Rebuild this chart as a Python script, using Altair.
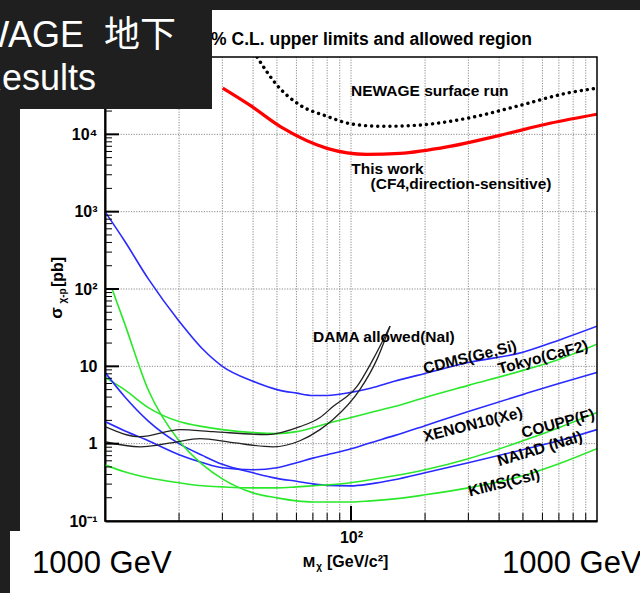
import altair as alt
import pandas as pd

W, H = 492, 464

# ---------------- data ----------------
mass = [10, 12, 15, 20, 25, 30, 40, 50, 60, 70, 80, 100, 120, 150, 200, 300, 500, 700, 1000]
cdms = [1000, 420, 135, 38.4, 16.6, 10.0, 6.4, 5.0, 4.5, 4.2, 4.2, 4.6, 5.2, 6.4, 8.1, 11.2, 15.2, 21.8, 33]
tokyo = [7.2, 5.0, 2.93, 1.93, 1.66, 1.52, 1.39, 1.35, 1.43, 1.61, 1.82, 2.18, 2.53, 3.02, 3.96, 5.67, 8.87, 12.3, 19.3]
xenon10 = [1.93, 1.47, 1.09, 0.72, 0.567, 0.488, 0.46, 0.488, 0.567, 0.65, 0.72, 0.86, 1.03, 1.27, 1.71, 2.60, 4.33, 6.01, 8.36]
naiad = [8.36, 4.08, 1.96, 1.0, 0.70, 0.54, 0.42, 0.356, 0.326, 0.302, 0.289, 0.285, 0.302, 0.341, 0.42, 0.567, 0.836, 1.09, 1.52]
coupp = [0.533, 0.433, 0.362, 0.312, 0.285, 0.276, 0.268, 0.268, 0.276, 0.285, 0.293, 0.312, 0.341, 0.384, 0.46, 0.639, 1.09, 1.61, 2.53]
kims_mass = [10.65, 12, 15, 20, 25, 30, 40, 50, 60, 70, 80, 100, 120, 150, 200, 300, 500, 700, 1000]
kims = [103, 36.2, 4.94, 1.09, 0.533, 0.351, 0.231, 0.199, 0.182, 0.176, 0.176, 0.176, 0.182, 0.193, 0.218, 0.268, 0.384, 0.55, 0.861]

this_work_mass = [30.1, 38.8, 52.9, 79.9, 116, 158, 252, 403, 644, 1000]
this_work = [3.95e4, 2.38e4, 1.20e4, 6.58e3, 5.5e3, 5.66e3, 6.98e3, 9.7e3, 1.39e4, 1.82e4]
surface_mass = [41.5, 50, 62.1, 79.9, 102, 135, 185, 296, 473, 755, 1000]
surface = [1.0e5, 4.33e4, 2.38e4, 1.71e4, 1.35e4, 1.27e4, 1.31e4, 1.61e4, 2.31e4, 3.41e4, 3.95e4]

dama_up_mass = [10, 13.9, 20.2, 27.5, 45.6, 62, 74.8, 84.5, 105.8, 122.9, 140.1, 144.1]
dama_up = [1.66, 1.23, 1.52, 1.43, 1.31, 1.66, 2.18, 3.02, 5.5, 12.3, 27.6, 33.1]
dama_lo_mass = [10, 13.9, 18.9, 24.3, 33.1, 48.2, 62, 74.8, 84.5, 108.8, 127.5, 140.1, 144.1]
dama_lo = [1.06, 0.91, 1.03, 1.16, 1.03, 0.91, 1.09, 1.52, 2.05, 5.03, 12.3, 26.0, 33.1]

curve_names = ["CDMS", "Tokyo", "XENON10", "NAIAD", "COUPP", "KIMS"]
curve_colors = ["#2a2aff", "#2ae82a", "#2a2aff", "#2a2aff", "#2ae82a", "#2ae82a"]

label_texts = ["NEWAGE surface run", "This work", "(CF4,direction-sensitive)", "DAMA allowed(NaI)",
               "CDMS(Ge,Si)", "Tokyo(CaF2)", "XENON10(Xe)", "COUPP(F)", "NAIAD (NaI)", "KIMS(CsI)"]
label_mass = [209, 140.6, 280, 136, 304.6, 603, 313, 694, 586, 419]
label_sigma = [3.61e4, 3.51e3, 2.31e3, 23.8, 13.1, 13.1, 1.77, 1.82, 0.861, 0.312]
label_angle = [0, 0, 0, 0, 346, 345, 346, 345, 343, 346]

x_grid_values = [10, 20, 30, 40, 50, 60, 70, 80, 90, 100, 200, 300, 400, 500, 600, 700, 800, 900, 1000]
x_label_values = [10, 100, 1000]
x_label_texts = ["10", "10²", "10³"]
y_values = [0.1, 1, 10, 100, 1000, 10000, 100000]
y_label_texts = ["10⁻¹", "1", "10", "10²", "10³", "10⁴", "10⁵"]

# ---------------- tables ----------------
rows = []
for name, ms, ss in [("CDMS", mass, cdms), ("Tokyo", mass, tokyo), ("XENON10", mass, xenon10),
                     ("NAIAD", mass, naiad), ("COUPP", mass, coupp), ("KIMS", kims_mass, kims)]:
    for m, s in zip(ms, ss):
        rows.append({"mass": m, "sigma": s, "series": name})
curves_df = pd.DataFrame(rows)
dama_df = pd.DataFrame(
    [{"mass": m, "sigma": s, "branch": "up"} for m, s in zip(dama_up_mass, dama_up)]
    + [{"mass": m, "sigma": s, "branch": "lo"} for m, s in zip(dama_lo_mass, dama_lo)])
red_df = pd.DataFrame({"mass": this_work_mass, "sigma": this_work})
dot_df = pd.DataFrame({"mass": surface_mass, "sigma": surface})
labels_df = pd.DataFrame({"mass": label_mass, "sigma": label_sigma, "text": label_texts, "angle": label_angle})
xgrid_df = pd.DataFrame({"v": x_grid_values[1:-1]})
ygrid_df = pd.DataFrame({"v": y_values[1:-1]})

y_minor = [m * 10.0 ** k for k in range(-1, 5) for m in range(2, 10)]
y_major = y_values[1:-1]
x_minor = [v for v in x_grid_values if v not in x_label_values]
x_major = [100]

def ternary(values, texts):
    expr = "''"
    for v, t in zip(reversed(values), reversed(texts)):
        expr = f"(abs(datum.value - {v}) < {v} * 1e-6) ? '{t}' : ({expr})"
    return expr

FONT = "Liberation Sans"
xs = alt.Scale(type="log", domain=[10, 1000], nice=False)
ys = alt.Scale(type="log", domain=[0.1, 100000], nice=False)
xaxis = alt.Axis(values=x_label_values, labelExpr=ternary(x_label_values, x_label_texts), title="",
                 ticks=False, domainColor="black", domainWidth=2, grid=False,
                 labelFont=FONT, labelFontSize=16, labelFontWeight="bold",
                 labelColor="black", labelPadding=8, labelOverlap=False, labelFlush=False, labelBound=False)
yaxis = alt.Axis(values=y_values, labelExpr=ternary(y_values, y_label_texts), title="",
                 ticks=False, domainColor="black", domainWidth=2, grid=False,
                 labelFont=FONT, labelFontSize=16, labelFontWeight="bold",
                 labelColor="black", labelPadding=8, labelOverlap=False, labelFlush=False, labelBound=False,
                 labelBaseline="middle")

def X(f="mass"):
    return alt.X(f"{f}:Q", scale=xs, axis=xaxis)

def Y(f="sigma"):
    return alt.Y(f"{f}:Q", scale=ys, axis=yaxis)

one = pd.DataFrame({"k": [0]})
GRID = dict(color="#8a8a8a", strokeWidth=1, strokeDash=[1.2, 1.4])

xgrid = alt.Chart(xgrid_df).mark_rule(**GRID).encode(x=X("v"), y=alt.value(0), y2=alt.value(H))
ygrid = alt.Chart(ygrid_df).mark_rule(**GRID).encode(y=Y("v"), x=alt.value(0), x2=alt.value(W))

curves = alt.Chart(curves_df).mark_line(strokeWidth=1.6, interpolate="monotone", clip=True).encode(
    x=X(), y=Y(),
    color=alt.Color("series:N", scale=alt.Scale(domain=curve_names, range=curve_colors), legend=None),
    detail="series:N")
dama = alt.Chart(dama_df).mark_line(color="#222222", strokeWidth=1.3, interpolate="monotone", clip=True).encode(
    x=X(), y=Y(), detail="branch:N")
red = alt.Chart(red_df).mark_line(color="#ff0000", strokeWidth=3.2, interpolate="monotone", clip=True).encode(
    x=X(), y=Y())
dots = alt.Chart(dot_df).mark_line(color="black", strokeWidth=3.4, strokeDash=[0.1, 6], strokeCap="round",
                                   interpolate="monotone", clip=True).encode(x=X(), y=Y())

tdf = lambda vals: pd.DataFrame({"v": vals})
yt_minor = alt.Chart(tdf(y_minor)).mark_rule(color="black", strokeWidth=1).encode(
    y=Y("v"), x=alt.value(0), x2=alt.value(7))
yt_major = alt.Chart(tdf(y_major)).mark_rule(color="black", strokeWidth=2).encode(
    y=Y("v"), x=alt.value(0), x2=alt.value(14))
xt_minor = alt.Chart(tdf(x_minor)).mark_rule(color="black", strokeWidth=1).encode(
    x=X("v"), y=alt.value(H), y2=alt.value(H - 8))
xt_major = alt.Chart(tdf(x_major)).mark_rule(color="black", strokeWidth=2).encode(
    x=X("v"), y=alt.value(H), y2=alt.value(H - 15))

labels = alt.Chart(labels_df).mark_text(font=FONT, fontSize=15.5, fontWeight="bold", color="black",
                                        align="center", baseline="middle").encode(
    x=X(), y=Y(), text="text:N", angle=alt.Angle("angle:Q", scale=None))

frame = alt.Chart(one).mark_rect(fill="transparent", stroke="black", strokeWidth=1.5).encode(
    x=alt.value(0), x2=alt.value(W), y=alt.value(0), y2=alt.value(H))

def txt(s, x, y, size, weight="bold", color="black", align="center", baseline="middle", angle=0):
    kw = dict(text=s, font=FONT + ", Noto Sans CJK JP, DejaVu Sans", fontSize=size, fontWeight=weight,
              color=color, align=align, baseline=baseline)
    if angle:
        kw["angle"] = angle
    return alt.Chart(one).mark_text(**kw).encode(x=alt.value(x), y=alt.value(y))

title = txt("90% C.L. upper limits and allowed region", 427, -12, 17.5, align="right", baseline="alphabetic")
ytitle = [txt("[pb]", -47, 215, 16, angle=270), txt("σ", -48, 256, 17, angle=270),
          txt("χ-p", -42, 239, 10, angle=270)]
xtitle = [txt("M", 204, 505, 15), txt("χ", 214, 510, 10),
          txt("[GeV/c²]", 222, 505, 16, align="left")]

DARK = "#1f1f1f"
def rect(x, x2, y, y2, color):
    return alt.Chart(one).mark_rect(color=color).encode(
        x=alt.value(x), x2=alt.value(x2), y=alt.value(y), y2=alt.value(y2))

overlay = [
    rect(-105, 107, -57, 52, DARK),
    rect(-105, 535, -57, -47, DARK),
    rect(-105, -85, -57, 474, DARK),
    rect(-105, -95, 474, 536, DARK),
    rect(-95, 110, 474, 534, "white"),
    rect(365, 535, 474, 536, "white"),
    txt("NEWAGE\u00a0\u00a0地下", 71, -10, 36, weight="normal", color="white", align="right",
        baseline="alphabetic"),
    txt("Results", -9, 33, 36, weight="normal", color="white", align="right", baseline="alphabetic"),
    txt("1000 GeV", -73, 516, 31, weight="normal", align="left", baseline="alphabetic"),
    txt("1000 GeV", 397, 516, 31, weight="normal", align="left", baseline="alphabetic"),
]

chart = alt.layer(
    xgrid, ygrid, curves, dama, red, dots, yt_minor, yt_major, xt_minor, xt_major, labels, frame, title,
    *ytitle, *xtitle, *overlay
).properties(
    width=W, height=H, background="white",
    padding={"left": 105, "top": 57, "right": 43, "bottom": 72},
    autosize=alt.AutoSizeParams(type="none"),
).configure_view(strokeWidth=0)

chart.save("out.html", embed_options={"renderer": "svg", "actions": False})
